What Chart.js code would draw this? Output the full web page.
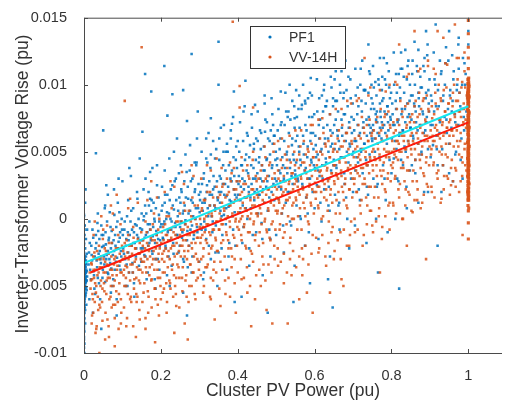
<!DOCTYPE html>
<html>
<head>
<meta charset="utf-8">
<script src="https://cdn.jsdelivr.net/npm/chart.js@4.4.0/dist/chart.umd.min.js"></script>
<style>
  body { margin: 0; background: #fff; }
  #wrap { width: 506px; height: 401px; }
</style>
</head>
<body>
<div id="wrap"><canvas id="riseChart"></canvas></div>
<script>
// power in per-mille of 1 pu, rise in 1e-4 pu, stored as pairs
const pf1Samples = [
  0,-62, 0,-55, 0,-48, 0,-71, 0,-40, 0,-33, 0,-25, 0,-58, 0,-66, 0,-80, 0,-88, 0,-44, 0,-37, 0,-19, 0,-12, 0,-5, 0,3, 0,-30, 0,-52, 0,-75,
  2,-60, 2,-45, 2,-35, 2,-28, 3,-50, 3,-68, 3,-22, 4,-40, 4,-57, 5,-31, 5,-47, 5,-15, 6,-64, 6,-38, 7,-26, 7,-53, 8,-43, 8,-8, 1,-84, 1,-93, 3,12, 4,22, 1,-70,
  0,-42, 0,-47, 0,-36, 0,-29, 0,-61, 0,-53, 1,-39, 1,-45, 1,-34, 1,-57, 2,-41, 2,-52, 2,-30, 3,-44, 3,-36, 4,-48, 4,-33, 5,-40, 5,-55, 6,-46, 0,-22, 0,-15, 1,-8, 0,2, 2,-66, 1,-74, 0,-82, 3,-78, 0,-96, 1,-50,
  12,-34, 15,-18, 18,-45, 20,-27, 22,-8, 25,-39, 27,-52, 30,-22, 31,-12, 33,-31, 35,-3, 36,-44, 38,-26, 40,-15, 42,-60, 44,-33, 45,-5, 47,-21, 49,-38, 50,-12, 52,-28, 54,8, 55,-47, 57,-19, 58,-30, 60,-2, 62,-24, 63,-41, 65,-14, 67,5, 68,-33, 70,-22, 72,-9, 74,-50, 75,-27, 77,-16, 79,3, 80,-38, 82,-20, 84,-6, 86,-29, 88,12, 90,-17, 92,-35, 94,-10, 96,-24, 98,0, 31,49, 50,66, 85,-72, 45,-82, 23,-70, 58,25, 90,30, 14,-60,
  102,-22, 105,-8, 107,-30, 110,-15, 112,2, 115,-25, 117,-40, 119,-12, 121,-2, 124,-20, 126,-33, 128,8, 130,-10, 132,-18, 135,-28, 137,-5, 139,15, 141,-14, 143,-35, 146,-7, 148,-22, 150,4, 152,-16, 155,-1, 157,-27, 159,10, 161,-12, 163,-45, 166,-4, 168,20, 170,-18, 172,-8, 175,6, 177,-24, 179,-13, 181,12, 184,-2, 186,-30, 188,-9, 190,25, 193,-15, 195,3, 197,-20, 199,-6, 118,38, 145,45, 172,35, 131,-58, 186,-52, 152,65, 159,108, 175,95, 113,-50,
  201,-4, 204,10, 206,-15, 209,-2, 211,18, 213,-22, 216,5, 218,-10, 220,-28, 223,14, 225,0, 227,-8, 230,25, 232,-18, 234,7, 237,-3, 239,30, 241,-12, 244,2, 246,-25, 248,16, 250,-6, 253,22, 255,-14, 257,4, 260,-32, 262,10, 264,-1, 267,35, 269,-9, 271,15, 274,-20, 276,6, 278,28, 281,-5, 283,12, 285,-15, 288,20, 290,0, 292,40, 295,-10, 297,8, 299,18, 217,77, 242,60, 268,73, 296,80, 223,-50, 258,-55, 280,-40, 230,93, 258,96, 209,114, 280,123, 268,-72,
  301,5, 303,20, 306,-8, 308,12, 311,30, 313,-2, 315,15, 318,-15, 320,25, 322,8, 325,-20, 327,18, 329,38, 332,2, 334,-10, 336,22, 339,10, 341,45, 343,-5, 346,28, 348,14, 350,-25, 353,32, 355,6, 357,20, 360,-12, 362,40, 364,3, 367,26, 369,-4, 371,17, 374,50, 376,9, 378,-18, 381,30, 383,13, 385,36, 388,-8, 390,22, 392,5, 395,44, 397,16, 399,28, 318,60, 330,75, 356,68, 385,71, 310,-45, 347,-50, 372,-38, 392,-62, 350,132, 350,100, 390,95,
  401,18, 403,32, 406,5, 408,24, 411,40, 413,10, 415,-6, 418,28, 420,16, 422,48, 425,0, 427,34, 429,20, 432,55, 434,8, 436,26, 439,-12, 441,38, 443,14, 446,30, 448,60, 450,22, 453,4, 455,42, 457,18, 460,52, 462,-3, 464,28, 467,36, 469,12, 471,65, 474,24, 476,45, 478,6, 481,32, 483,58, 485,-15, 488,20, 490,40, 492,70, 495,14, 497,30, 499,50, 420,103, 415,80, 445,85, 470,92, 490,78, 430,-35, 465,-42, 485,-28, 410,-58, 478,-70,
  501,28, 503,45, 506,15, 508,36, 511,60, 513,22, 515,4, 518,40, 520,30, 522,70, 525,12, 527,48, 529,34, 532,80, 534,20, 536,38, 539,-5, 541,55, 543,26, 546,44, 548,75, 550,33, 553,10, 555,62, 557,28, 560,50, 562,2, 564,40, 567,85, 569,24, 571,56, 574,36, 576,70, 578,16, 581,46, 583,90, 585,-10, 588,30, 590,64, 592,42, 595,20, 597,52, 599,78, 512,95, 535,100, 560,92, 590,105, 520,-25, 548,-35, 575,-20, 545,-62, 588,-48, 530,125,
  601,38, 603,55, 606,25, 608,48, 611,70, 613,32, 615,12, 618,52, 620,40, 622,80, 625,22, 627,60, 629,45, 632,88, 634,30, 636,50, 639,6, 641,66, 643,36, 646,56, 648,84, 650,44, 653,18, 655,74, 657,38, 660,62, 662,10, 664,52, 667,94, 669,34, 671,68, 674,46, 676,78, 678,26, 681,58, 683,96, 685,0, 688,42, 690,72, 692,54, 695,30, 697,64, 699,86, 610,-15, 640,-28, 665,-8, 690,-22, 647,-66, 625,100, 655,110, 680,118, 635,-45,
  701,50, 703,66, 706,36, 708,58, 711,78, 713,42, 715,22, 718,64, 720,52, 722,88, 725,34, 727,72, 729,56, 732,96, 734,44, 736,62, 739,18, 741,76, 743,48, 746,68, 748,90, 750,58, 753,30, 755,82, 757,50, 760,74, 762,24, 764,64, 767,100, 769,46, 771,80, 774,60, 776,88, 778,40, 781,70, 783,104, 785,14, 788,56, 790,84, 792,66, 795,44, 797,76, 799,94, 752,70, 762,80, 775,72, 788,78, 745,64, 770,68, 705,-5, 735,-18, 760,0, 790,-10, 720,112, 780,120, 740,130, 765,-40,
  801,60, 803,78, 806,45, 808,70, 811,88, 813,52, 815,30, 818,74, 820,62, 822,98, 825,44, 827,82, 829,66, 832,106, 834,54, 836,72, 839,24, 841,86, 843,58, 846,78, 848,100, 850,68, 853,40, 855,92, 857,60, 860,84, 862,34, 864,72, 867,110, 869,56, 871,90, 874,70, 876,98, 878,48, 881,80, 883,114, 885,20, 888,66, 890,94, 892,76, 895,52, 897,86, 899,104, 810,0, 840,8, 870,12, 895,20, 825,124, 860,132, 890,140, 820,-52,
  902,70, 905,88, 908,55, 911,80, 914,100, 917,62, 920,40, 923,84, 926,72, 929,108, 932,52, 935,92, 938,76, 941,116, 944,64, 947,82, 950,34, 953,96, 956,68, 959,88, 962,110, 965,78, 968,50, 971,100, 974,70, 977,94, 980,44, 983,82, 986,120, 989,66, 992,100, 995,80, 998,90, 1000,60, 1000,130, 1000,75, 930,20, 960,28, 985,30, 920,-20, 950,140, 975,135, 1000,140, 915,145
];

// second pass over the dense core of the PF1 cloud
const pf1Core = [
  13,-25, 16,-38, 19,-20, 21,-31, 24,-14, 26,-42, 28,-28, 32,-18, 34,-36, 37,-9, 39,-48, 41,-24, 43,-30, 46,-12, 48,-44, 14,-2, 29,-56, 36,4,
  51,-20, 53,-34, 56,-10, 59,-27, 61,-40, 64,-16, 66,-30, 69,-6, 71,-37, 73,-18, 76,-45, 78,-24, 81,-12, 83,-32, 87,-2, 89,-22, 93,-14, 95,-38, 97,-28, 99,-8,
  101,-12, 104,-26, 106,-2, 109,-20, 111,-34, 114,-10, 116,-16, 120,-28, 123,6, 125,-8, 127,-40, 129,-18, 133,-4, 136,-22, 138,-12, 142,0, 144,-26, 147,-16, 149,-32,
  151,-8, 153,-22, 156,2, 158,-14, 160,-28, 162,4, 165,-10, 167,-20, 169,10, 171,-4, 174,-16, 176,14, 178,-26, 180,-6, 183,0, 185,-18, 187,8, 189,-12, 192,-30, 194,16, 196,-2, 198,-16,
  202,6, 205,-14, 207,-4, 210,12, 212,-20, 214,0, 217,18, 219,-8, 221,4, 224,-16, 226,22, 228,-2, 231,10, 233,-26, 236,28, 238,-6, 240,14, 243,-12, 245,6, 247,34, 249,-20,
  251,12, 252,-2, 254,20, 256,-10, 259,6, 261,28, 263,-4, 265,16, 268,-16, 270,24, 272,4, 275,36, 277,-8, 279,14, 282,30, 284,2, 286,-12, 289,22, 291,8, 293,42, 294,-6, 298,26,
  302,14, 304,-4, 307,26, 309,6, 312,34, 314,12, 316,-8, 319,20, 321,42, 323,2, 326,28, 328,10, 330,48, 333,18, 335,-2, 337,32, 340,24, 342,8, 344,52, 347,16,
  351,20, 352,44, 354,12, 356,30, 358,2, 361,26, 363,50, 365,18, 368,36, 370,8, 372,56, 375,24, 377,40, 379,14, 382,60, 384,28, 386,2, 389,46, 391,32, 393,18, 396,54, 398,38,
  402,26, 404,50, 407,14, 409,40, 412,30, 414,58, 416,22, 419,44, 421,8, 423,36, 426,62, 428,24, 430,46, 433,16, 435,40, 437,68, 440,30, 442,52, 444,20, 447,44,
  451,34, 452,58, 454,18, 456,46, 459,30, 461,64, 463,40, 466,22, 468,54, 470,36, 472,74, 475,44, 477,28, 479,60, 482,16, 484,48, 486,66, 489,38, 491,56, 493,26, 496,62, 498,44,
  502,40, 504,66, 507,24, 509,52, 511,34, 514,72, 516,46, 519,28, 521,58, 523,38, 526,80, 528,50, 530,20, 533,64, 535,44, 537,74, 540,32, 542,60, 544,48, 547,84, 549,36,
  551,58, 552,42, 554,76, 556,30, 559,54, 561,68, 563,44, 566,82, 568,26, 570,62, 572,48, 575,88, 577,38, 579,66, 582,54, 584,30, 586,76, 589,58, 591,44, 593,92, 596,64, 598,40,
  602,62, 604,46, 607,80, 609,36, 612,60, 614,74, 616,50, 619,92, 621,30, 623,68, 626,56, 628,84, 630,42, 633,70, 635,60, 637,24, 640,78, 642,54, 644,98, 647,64, 649,40,
  651,70, 652,52, 654,88, 656,40, 659,66, 661,80, 663,58, 666,100, 668,46, 670,74, 672,62, 675,90, 677,34, 679,78, 682,64, 684,50, 686,84, 689,68, 691,56, 693,104, 696,76, 698,48,
  702,74, 704,58, 707,92, 709,46, 712,70, 714,84, 716,62, 719,100, 721,50, 723,80, 726,68, 728,96, 730,56, 733,86, 735,74, 737,40, 740,94, 742,70, 744,108, 747,82, 749,60,
  751,86, 752,66, 754,98, 756,60, 759,78, 761,92, 763,72, 766,104, 768,62, 770,86, 772,76, 775,96, 777,68, 779,90, 782,80, 784,64, 786,100, 789,84, 791,72, 793,110, 796,90, 798,74,
  802,86, 804,70, 807,100, 809,58, 812,82, 814,94, 816,72, 819,108, 821,64, 823,90, 826,78, 828,112, 830,66, 833,94, 835,82, 837,50, 840,104, 842,76, 844,118, 847,88, 849,68,
  851,92, 852,74, 854,108, 856,62, 859,86, 861,100, 863,80, 866,114, 868,66, 870,94, 872,84, 875,106, 877,58, 879,98, 882,78, 884,64, 886,110, 889,90, 891,72, 893,122, 896,96, 898,80,
  903,92, 907,70, 912,104, 916,84, 921,96, 925,64, 930,110, 934,88, 939,100, 943,74, 948,118,
  952,92, 957,80, 961,104, 966,72, 970,96, 975,112, 979,84, 984,100, 988,76, 993,108, 997,92,
  0,-35, 0,-41, 0,-50, 0,-57, 0,-64, 0,-27, 1,-31, 1,-43, 1,-53, 1,-62, 2,-38, 2,-48, 2,-56, 3,-33, 3,-41, 3,-58, 4,-36, 4,-45, 4,-52, 5,-28, 5,-43, 6,-34, 6,-51, 7,-39, 7,-46, 0,-69, 0,-77, 0,-90, 1,-100, 0,-107, 0,-18, 1,-12, 0,-8, 2,-5
];

// third pass: the wider fringe of the PF1 cloud
const pf1Spread = [
  55,10, 62,18, 70,-55, 78,22, 85,-60, 92,5, 100,28, 108,-50, 115,14, 122,32, 130,-48, 138,20,
  155,22, 160,30, 166,-40, 172,15, 178,38, 184,-45, 190,40, 196,-38, 203,24, 210,36, 216,-42, 222,45, 228,-35, 234,50,
  252,40, 258,-30, 264,48, 270,-36, 276,55, 282,-28, 288,42, 294,60, 300,-32, 306,50, 312,-40, 318,45, 324,64, 330,-30, 336,58, 342,-25,
  352,60, 358,-22, 364,70, 370,50, 376,-28, 382,66, 388,76, 394,-20, 400,58, 406,72, 412,-18, 418,84, 424,64, 430,-22, 436,78, 442,56, 448,-10,
  452,80, 458,66, 464,-15, 470,86, 476,72, 482,-8, 488,90, 494,62, 500,-12, 506,82, 512,70, 518,-5, 524,94, 530,76, 536,-2, 542,88, 548,68,
  552,96, 558,82, 564,0, 570,100, 576,86, 582,4, 588,94, 594,76, 600,8, 606,104, 612,90, 618,-2, 624,96, 630,84, 636,10, 642,106, 648,90,
  652,104, 658,88, 664,12, 670,110, 676,94, 682,16, 688,106, 694,90, 700,20, 706,112, 712,98, 718,14, 724,118, 730,96, 736,24, 742,110, 748,100,
  752,114, 758,102, 764,26, 770,120, 776,106, 782,30, 788,116, 794,98, 800,34, 806,124, 812,108, 818,28, 824,112, 830,40, 836,126, 842,114, 848,36,
  855,118, 862,44, 870,126, 878,50, 886,120, 894,130, 902,46, 910,124, 918,52, 926,118, 934,40, 942,128, 950,56, 958,122, 966,48, 974,130, 982,60, 990,116
];

const vv14hSamples = [
  15,-40, 17,-52, 19,-33, 21,-45, 23,-60, 25,-38, 27,-25, 29,-48, 31,-55, 33,-30, 35,-42, 37,-68, 39,-20, 41,-36, 43,-50, 45,-28, 47,-62, 49,-15, 51,-40, 53,-54, 55,-32, 57,-24, 59,-46, 61,-75, 63,-35, 65,-18, 67,-44, 69,-58, 71,-28, 73,-38, 75,-8, 77,-50, 79,-30, 81,-64, 83,-22, 85,-42, 87,-35, 89,-12, 91,-56, 93,-26, 95,-40, 97,-70, 99,-20, 30,-85, 55,-90, 80,-95, 45,2, 70,10, 20,-78, 90,-82, 40,-100, 65,-88, 25,-12, 60,-5, 85,18,
  101,-30, 103,-42, 106,-18, 108,-35, 110,-50, 113,-25, 115,-12, 117,-40, 119,-28, 122,-58, 124,-20, 126,-34, 128,-6, 131,-45, 133,-22, 135,-30, 137,-62, 140,-15, 142,-38, 144,-26, 146,-48, 149,-10, 151,-32, 153,-20, 155,-55, 158,-28, 160,-2, 162,-40, 164,-18, 167,-70, 169,-24, 171,-36, 173,-8, 176,-45, 178,-16, 180,-30, 182,4, 185,-52, 187,-22, 189,-12, 191,-38, 194,-26, 196,0, 198,-44, 110,-80, 135,-88, 160,-82, 185,-92, 120,15, 150,128, 175,28, 145,-75, 195,-72, 106,88,
  201,-18, 203,-30, 206,-6, 208,-24, 210,-40, 213,-12, 215,2, 217,-28, 219,-16, 222,-46, 224,-8, 226,-22, 228,8, 231,-34, 233,-10, 235,-20, 237,-50, 240,-2, 242,-26, 244,-14, 246,-36, 249,4, 251,-20, 253,-8, 255,-44, 258,-16, 260,12, 262,-28, 264,-4, 267,-58, 269,-12, 271,-24, 273,6, 276,-34, 278,-2, 280,-18, 282,16, 285,-40, 287,-10, 289,0, 291,-26, 294,-14, 296,10, 298,-32, 215,-70, 240,-65, 262,-78, 290,-60, 225,28, 255,35, 280,40, 235,-85, 270,-90, 205,-55,
  301,-6, 303,-18, 306,6, 308,-12, 310,-28, 313,0, 315,14, 317,-16, 319,-4, 322,-34, 324,4, 326,-10, 328,20, 331,-22, 333,2, 335,-8, 337,-38, 340,10, 342,-14, 344,-2, 346,-24, 349,16, 351,-8, 353,4, 355,-32, 358,-4, 360,24, 362,-16, 364,8, 367,-46, 369,0, 371,-12, 373,18, 376,-22, 378,10, 380,-6, 382,28, 385,-28, 387,2, 389,12, 391,-14, 394,-2, 396,22, 398,-20, 310,-55, 330,-60, 355,-65, 380,-58, 395,-70, 320,40, 345,45, 387,147, 390,38, 340,-75,
  401,5, 403,-8, 406,18, 408,0, 410,-16, 413,12, 415,26, 417,-4, 419,8, 422,-22, 424,16, 426,2, 428,32, 431,-10, 433,14, 435,4, 437,-26, 440,22, 442,-2, 444,10, 446,-12, 449,28, 451,4, 453,16, 455,-20, 458,8, 460,36, 462,-4, 464,20, 467,-34, 469,12, 471,0, 473,30, 476,-10, 478,22, 480,6, 482,40, 485,-16, 487,14, 489,24, 491,-2, 494,10, 496,34, 498,-8, 410,-45, 425,-55, 445,-60, 460,-50, 475,-68, 490,-78, 405,99, 405,83, 440,83, 435,-80,
  501,16, 503,4, 506,30, 508,12, 510,-4, 513,24, 515,38, 517,8, 519,20, 522,-10, 524,28, 526,14, 528,44, 531,2, 533,26, 535,16, 537,-14, 540,34, 542,10, 544,22, 546,0, 549,40, 551,16, 553,28, 555,-8, 558,20, 560,48, 562,8, 564,32, 567,-22, 569,24, 571,12, 573,42, 576,2, 578,34, 580,18, 582,52, 585,-4, 587,26, 589,36, 591,10, 594,22, 596,46, 598,4, 505,-35, 520,-48, 540,-42, 560,-60, 580,-55, 595,-70, 515,60, 550,66, 590,70, 530,-78, 570,-30,
  601,27, 603,15, 606,40, 608,24, 610,8, 613,35, 615,50, 617,20, 619,32, 622,2, 624,40, 626,26, 628,56, 631,14, 633,38, 635,28, 637,-2, 640,46, 642,22, 644,34, 646,12, 649,52, 651,28, 653,40, 655,4, 658,32, 660,60, 662,20, 664,44, 667,-10, 669,36, 671,24, 673,54, 676,14, 678,46, 680,30, 682,64, 685,8, 687,38, 689,48, 691,22, 694,34, 696,58, 698,16, 610,-25, 630,-35, 650,-30, 670,-45, 690,-20, 620,75, 655,82, 685,88, 640,-55, 675,-50,
  701,38, 703,26, 706,52, 708,36, 710,20, 713,46, 715,62, 717,32, 719,44, 722,14, 724,52, 726,38, 728,68, 731,26, 733,50, 735,40, 737,10, 740,58, 742,34, 744,46, 746,24, 749,64, 751,40, 753,52, 755,16, 758,44, 760,72, 762,32, 764,56, 767,2, 769,48, 771,36, 773,66, 776,26, 778,58, 780,42, 782,76, 785,20, 787,50, 789,60, 791,34, 794,46, 796,70, 798,28, 705,-10, 725,-20, 750,-5, 775,-15, 795,-8, 715,90, 745,98, 785,95, 730,120, 770,-40,
  801,50, 803,38, 806,64, 808,48, 810,32, 813,58, 815,74, 817,44, 819,56, 822,26, 824,64, 826,50, 828,80, 831,38, 833,62, 835,52, 837,22, 840,70, 842,46, 844,58, 846,36, 849,76, 851,52, 853,64, 855,28, 858,56, 860,84, 862,44, 864,68, 867,14, 869,60, 871,48, 873,78, 876,38, 878,70, 880,54, 882,88, 885,32, 887,62, 889,72, 891,46, 894,58, 896,82, 898,40, 805,10, 830,0, 855,5, 880,12, 815,100, 845,108, 875,112, 895,118, 820,130, 860,140, 840,-20, 890,-30,
  901,61, 903,48, 906,75, 908,58, 910,42, 913,68, 915,86, 917,54, 919,66, 922,36, 924,74, 926,60, 928,90, 931,48, 933,72, 935,62, 937,32, 940,80, 942,56, 944,68, 946,46, 949,86, 951,62, 953,74, 955,38, 958,66, 960,94, 962,54, 964,78, 967,24, 969,70, 971,58, 973,88, 976,48, 978,80, 980,64, 982,98, 985,42, 987,72, 989,82, 991,56, 994,68, 996,92, 998,50, 905,20, 930,15, 955,25, 980,28, 915,108, 945,115, 975,120, 990,110, 935,135, 965,145, 985,-12, 920,140
];

// second pass over the dense core of the VV-14H cloud
const vv14hCore = [
  18,-46, 20,-34, 22,-56, 24,-28, 26,-44, 28,-62, 30,-38, 32,-50, 34,-24, 36,-58, 38,-40, 40,-30, 42,-66, 44,-46, 46,-36, 48,-52, 21,-72, 33,-80,
  51,-30, 52,-48, 54,-22, 56,-40, 58,-56, 60,-34, 62,-44, 64,-26, 66,-60, 68,-38, 70,-50, 72,-18, 74,-42, 76,-64, 78,-34, 80,-46, 82,-28, 84,-54, 86,-38, 88,-22, 92,-48, 94,-32, 96,-60, 98,-40,
  102,-24, 104,-38, 105,-50, 107,-28, 109,-44, 111,-16, 112,-36, 114,-56, 116,-30, 118,-20, 120,-46, 121,-34, 123,-62, 125,-26, 127,-40, 129,-14, 130,-52, 132,-32, 134,-22, 136,-44, 138,-36, 139,-58, 141,-26, 143,-46, 145,-18, 147,-38, 148,-30,
  150,-24, 152,-40, 154,-16, 156,-32, 157,-48, 159,-22, 161,-36, 163,-10, 165,-30, 166,-54, 168,-20, 170,-42, 172,-28, 174,-14, 175,-46, 177,-34, 179,-4, 181,-24, 183,-38, 184,-16, 186,-60, 188,-30, 190,-18, 192,-44, 193,-8, 195,-32, 197,-22, 199,-50,
  202,-10, 204,-26, 205,-40, 207,-16, 209,-32, 211,-4, 212,-22, 214,-48, 216,-12, 218,-36, 220,-24, 221,2, 223,-30, 225,-52, 227,-14, 229,-38, 230,-20, 232,-6, 234,-42, 236,-28, 238,-12, 239,-56, 241,-18, 243,-34, 245,-2, 247,-24, 248,-44,
  250,-12, 252,-28, 254,-2, 256,-20, 257,-36, 259,-8, 261,-24, 263,6, 265,-16, 266,-42, 268,-30, 270,-6, 272,-20, 274,-50, 275,-12, 277,-34, 279,2, 281,-22, 283,-40, 284,-10, 286,-28, 288,10, 290,-18, 292,-46, 293,-4, 295,-30, 297,-14, 299,-38,
  302,0, 304,-14, 305,-30, 307,8, 309,-6, 311,-22, 312,14, 314,-10, 316,-36, 318,2, 320,-18, 321,20, 323,-4, 325,-26, 327,10, 329,-12, 330,-44, 332,4, 334,-20, 336,16, 338,-8, 339,-32, 341,6, 343,-16, 345,24, 347,-2, 348,-24,
  350,8, 352,-8, 354,18, 356,0, 357,-18, 359,12, 361,-4, 363,26, 365,6, 366,-28, 368,16, 370,-10, 372,30, 374,2, 375,-16, 377,20, 379,-2, 381,10, 383,-22, 384,34, 386,4, 388,-12, 390,22, 392,-30, 393,14, 395,0, 397,28, 399,-6,
  402,14, 404,-2, 405,28, 407,8, 409,-12, 411,20, 412,2, 414,36, 416,-6, 418,16, 420,-20, 421,26, 423,6, 425,40, 427,-10, 429,18, 430,30, 432,0, 434,-24, 436,22, 438,10, 439,44, 441,-4, 443,16, 445,-16, 447,32, 448,4,
  450,18, 452,2, 454,30, 456,10, 457,-10, 459,24, 461,4, 463,40, 465,14, 466,-18, 468,28, 470,-2, 472,46, 474,18, 475,-8, 477,32, 479,8, 481,22, 483,-14, 484,42, 486,12, 488,-4, 490,30, 492,18, 493,50, 495,-20, 497,24, 499,6,
  502,22, 504,6, 505,36, 507,14, 509,-8, 511,28, 512,44, 514,4, 516,18, 518,-14, 520,32, 521,10, 523,48, 525,22, 527,-4, 529,38, 530,14, 532,54, 534,28, 536,-18, 538,42, 539,20, 541,0, 543,34, 545,12, 547,50, 548,26,
  550,30, 552,14, 554,44, 556,24, 557,2, 559,38, 561,18, 563,54, 565,30, 566,-8, 568,42, 570,22, 572,58, 574,8, 575,36, 577,48, 579,16, 581,30, 583,-2, 584,50, 586,24, 588,40, 590,12, 592,56, 593,32, 595,-12, 597,46, 599,20,
  602,36, 604,20, 605,50, 607,30, 609,10, 611,44, 612,24, 614,60, 616,36, 618,0, 620,48, 621,28, 623,64, 625,16, 627,40, 629,54, 630,22, 632,36, 634,6, 636,58, 638,30, 639,46, 641,18, 643,62, 645,34, 647,-6, 648,50,
  650,40, 652,26, 654,56, 656,34, 657,14, 659,50, 661,30, 663,66, 665,42, 666,4, 668,54, 670,32, 672,70, 674,20, 675,46, 677,58, 679,26, 681,42, 683,10, 684,64, 686,36, 688,52, 690,22, 692,68, 693,40, 695,-2, 697,56, 699,30,
  702,46, 704,30, 705,60, 707,40, 709,20, 711,54, 712,34, 714,70, 716,48, 718,10, 720,60, 721,38, 723,76, 725,26, 727,52, 729,64, 730,30, 732,46, 734,16, 736,70, 738,40, 739,58, 741,24, 743,74, 745,44, 747,6, 748,62,
  750,50, 752,36, 754,66, 756,46, 757,24, 759,60, 761,40, 763,76, 765,52, 766,16, 768,64, 770,44, 772,82, 774,32, 775,58, 777,70, 779,36, 781,52, 783,22, 784,78, 786,46, 788,62, 790,30, 792,80, 793,50, 795,12, 797,68, 799,40,
  802,58, 804,42, 805,72, 807,52, 809,30, 811,66, 812,46, 814,82, 816,58, 818,22, 820,70, 821,50, 823,88, 825,38, 827,62, 829,76, 830,42, 832,58, 834,28, 836,84, 838,52, 839,68, 841,36, 843,86, 845,56, 847,18, 848,72,
  850,62, 852,48, 854,78, 856,58, 857,36, 859,72, 861,52, 863,88, 865,64, 866,28, 868,76, 870,56, 872,94, 874,44, 875,68, 877,82, 879,48, 881,64, 883,34, 884,90, 886,58, 888,74, 890,42, 892,92, 893,62, 895,24, 897,80, 899,54,
  902,66, 904,52, 905,84, 907,62, 909,40, 911,78, 912,58, 914,94, 916,70, 918,34, 920,82, 921,62, 923,100, 925,50, 927,74, 929,88, 930,54, 932,70, 934,40, 936,96, 938,64, 939,80, 941,48, 943,98, 945,68, 947,30, 948,86,
  950,72, 952,56, 954,90, 956,66, 957,44, 959,84, 961,62, 963,100, 965,76, 966,38, 968,88, 970,66, 972,104, 974,54, 975,80, 977,94, 979,58, 981,76, 983,46, 984,102, 986,70, 988,86, 990,52, 992,98, 993,74, 995,36, 997,90, 999,64
];

// third pass: the wider fringe of the VV-14H cloud
const vv14hSpread = [
  24,-70, 32,-82, 40,-64, 48,-76, 56,-70, 64,-80, 72,-66, 80,-74, 88,-62, 96,-78, 28,-2, 50,-8, 75,4, 95,-4,
  104,-66, 112,-74, 120,-60, 128,-80, 136,-56, 144,-68, 152,-62, 160,-74, 168,-58, 176,-66, 184,-52, 192,-64, 200,-60, 115,8, 140,12, 165,14, 190,16,
  208,-52, 216,-62, 224,-48, 232,-58, 240,-44, 248,-66, 256,-54, 264,-46, 272,-62, 280,-50, 288,-56, 296,-44, 210,20, 235,24, 260,26, 285,32,
  304,-42, 312,-50, 320,-36, 328,-58, 336,-46, 344,-40, 352,-52, 360,-38, 368,-56, 376,-44, 384,-36, 392,-48, 400,-40, 305,30, 330,36, 358,38, 380,42,
  408,-30, 416,-44, 424,-36, 432,-50, 440,-32, 448,-42, 456,-38, 464,-28, 472,-46, 480,-34, 488,-40, 496,-30, 410,46, 440,50, 470,54, 495,56,
  504,-22, 512,-32, 520,-26, 528,-40, 536,-30, 544,-24, 552,-36, 560,-28, 568,-42, 576,-20, 584,-34, 592,-26, 505,58, 535,62, 565,66, 595,70,
  604,-14, 612,-22, 620,-12, 628,-28, 636,-18, 644,-10, 652,-24, 660,-16, 668,-30, 676,-8, 684,-20, 692,-12, 610,74, 640,78, 670,82, 695,86,
  704,0, 712,-8, 720,4, 728,-12, 736,-4, 744,6, 752,-10, 760,-2, 768,8, 776,-6, 784,2, 792,10, 710,88, 740,92, 770,96, 795,100,
  804,12, 812,4, 820,16, 828,0, 836,10, 844,20, 852,6, 860,14, 868,22, 876,8, 884,18, 892,26, 810,102, 840,106, 870,110, 895,114,
  904,24, 912,16, 920,30, 928,12, 936,22, 944,32, 952,18, 960,28, 968,36, 976,20, 984,32, 992,40, 910,112, 940,116, 970,120, 990,124
];

// the full-power column of VV-14H samples at 1 pu
const vv14hFullPower = [
  1000,15, 1000,21, 1000,26, 1000,31, 1000,37, 1000,40, 1000,46, 1000,51, 1000,54, 1000,61, 1000,64, 1000,70, 1000,76, 1000,79, 1000,86, 1000,89, 1000,95, 1000,99, 1000,104,
  999,18, 999,28, 999,35, 999,43, 999,48, 999,56, 999,68, 999,73, 999,81, 999,88, 999,93, 999,101,
  1001,17, 1001,23, 1001,33, 1001,39, 1001,44, 1001,52, 1001,59, 1001,66, 1001,72, 1001,77, 1001,84, 1001,92, 1001,97, 1001,102,
  1000,112, 1000,120, 1000,128, 1000,138, 1000,148, 1000,-3, 1000,-15, 1000,6, 999,10, 1001,8, 999,63, 1000,58, 1000,73, 999,84, 1001,47, 1000,34, 1000,92,
  1000,16, 1000,19, 1000,23, 1000,28, 1000,33, 1000,36, 1000,42, 1000,44, 1000,49, 1000,53, 1000,57, 1000,63, 1000,67, 1000,72, 1000,75, 1000,81, 1000,84, 1000,88, 1000,93, 1000,97, 1000,101,
  999,14, 999,22, 999,25, 999,31, 999,38, 999,41, 999,46, 999,52, 999,59, 999,66, 999,71, 999,77, 999,86, 999,91, 999,96, 999,104,
  1001,14, 1001,20, 1001,27, 1001,30, 1001,36, 1001,42, 1001,49, 1001,55, 1001,62, 1001,69, 1001,74, 1001,80, 1001,87, 1001,90, 1001,95, 1001,100, 1001,105,
  998,20, 998,32, 998,45, 998,57, 998,70, 998,82, 998,94, 1002,26, 1002,40, 1002,54, 1002,68, 1002,79, 1002,91, 1002,99
];

// least-squares fit lines (end points)
const pf1FitPower = [0, 1];
const pf1FitRise = [-0.0033, 0.0084];
const vv14hFitPower = [0.017, 1];
const vv14hFitRise = [-0.0040, 0.0072];

const xTickValues = [0, 0.2, 0.4, 0.6, 0.8, 1];
const yTickValues = [-0.01, -0.005, 0, 0.005, 0.01, 0.015];

const seriesNames = ['PF1', 'VV-14H'];
const seriesColors = ['#0072BD', '#D95319'];

function toPoints(flat) {
    const pts = [];
    for (let i = 0; i < flat.length; i += 2) {
        pts.push({ x: flat[i] / 1000, y: flat[i + 1] / 10000 });
    }
    return pts;
}

function toLine(xs, ys) {
    return xs.map((x, i) => ({ x: x, y: ys[i] }));
}

const textColor = '#333333';
const axisColor = '#4a4a4a';

// frame, inward ticks, axis titles and legend, drawn like the matlab figure
const matlabAxes = {
    id: 'matlabAxes',
    afterDraw(chart) {
        const ctx = chart.ctx;
        const a = chart.chartArea;
        const xs = chart.scales.x;
        const ys = chart.scales.y;
        ctx.save();
        ctx.strokeStyle = axisColor;
        ctx.lineWidth = 1;
        ctx.beginPath();
        ctx.moveTo(a.left + 0.5, a.top + 0.5);
        ctx.lineTo(a.left + 0.5, a.bottom + 0.5);
        ctx.lineTo(a.right, a.bottom + 0.5);
        ctx.moveTo(a.left + 0.5, a.top + 0.5);
        ctx.lineTo(a.right, a.top + 0.5);
        xTickValues.forEach(v => {
            const px = Math.round(xs.getPixelForValue(v)) + 0.5;
            ctx.moveTo(px, a.bottom);
            ctx.lineTo(px, a.bottom - 4);
            ctx.moveTo(px, a.top);
            ctx.lineTo(px, a.top + 4);
        });
        yTickValues.forEach(v => {
            const py = Math.round(ys.getPixelForValue(v)) + 0.5;
            ctx.moveTo(a.left, py);
            ctx.lineTo(a.left + 4, py);
        });
        ctx.stroke();

        // axis titles
        ctx.fillStyle = textColor;
        ctx.font = '17.5px "Liberation Sans", Arial, sans-serif';
        ctx.textAlign = 'center';
        ctx.textBaseline = 'alphabetic';
        ctx.fillText('Cluster PV Power (pu)', (a.left + a.right) / 2, 396);
        ctx.save();
        ctx.translate(28, 184);
        ctx.rotate(-Math.PI / 2);
        ctx.fillText('Inverter-Transformer Voltage Rise (pu)', 0, 0);
        ctx.restore();

        // legend box
        ctx.fillStyle = '#ffffff';
        ctx.fillRect(250, 26, 95, 42);
        ctx.strokeStyle = '#333333';
        ctx.strokeRect(250.5, 26.5, 95, 42);
        ctx.font = '14px "Liberation Sans", Arial, sans-serif';
        ctx.textAlign = 'left';
        ctx.textBaseline = 'middle';
        seriesNames.forEach((name, i) => {
            const cy = 37 + i * 20;
            ctx.fillStyle = seriesColors[i];
            ctx.beginPath();
            ctx.arc(270, cy, 1.6, 0, Math.PI * 2);
            ctx.fill();
            ctx.fillStyle = textColor;
            ctx.fillText(name, 289, cy + 1);
        });
        ctx.restore();
    }
};

const ctx = document.getElementById('riseChart').getContext('2d');
const riseChart = new Chart(ctx, {
    type: 'scatter',
    data: {
        datasets: [{
            label: 'PF1 fit',
            type: 'line',
            data: toLine(pf1FitPower, pf1FitRise),
            borderColor: '#14e6ee',
            borderWidth: 2,
            pointRadius: 0,
            order: 0
        }, {
            label: 'VV-14H fit',
            type: 'line',
            data: toLine(vv14hFitPower, vv14hFitRise),
            borderColor: '#ff1a0a',
            borderWidth: 2,
            pointRadius: 0,
            order: 0
        }, {
            label: seriesNames[1] + ' at 1 pu',
            data: toPoints(vv14hFullPower),
            backgroundColor: 'rgba(217, 83, 25, 0.9)',
            pointStyle: 'rect',
            pointRadius: 2.2,
            pointBorderWidth: 0,
            order: 1
        }, {
            label: seriesNames[1],
            data: toPoints(vv14hSamples.concat(vv14hCore, vv14hSpread)),
            backgroundColor: 'rgba(217, 83, 25, 0.85)',
            pointStyle: 'rect',
            pointRadius: 1.8,
            pointBorderWidth: 0,
            order: 2
        }, {
            label: seriesNames[0],
            data: toPoints(pf1Samples.concat(pf1Core, pf1Spread)),
            backgroundColor: 'rgba(0, 114, 189, 0.85)',
            pointStyle: 'rect',
            pointRadius: 1.8,
            pointBorderWidth: 0,
            order: 3
        }]
    },
    options: {
        responsive: true,
        maintainAspectRatio: false,
        animation: false,
        events: [],
        layout: { padding: { top: 16, left: 0, right: 0, bottom: 0 } },
        plugins: {
            legend: { display: false },
            tooltip: { enabled: false }
        },
        scales: {
            x: {
                type: 'linear',
                min: 0,
                max: 1.0876,
                grid: { display: false },
                border: { display: false },
                afterFit: s => { s.height = 48; },
                afterBuildTicks: s => { s.ticks = xTickValues.map(v => ({ value: v })); },
                ticks: {
                    includeBounds: false,
                    padding: 6,
                    maxRotation: 0,
                    color: textColor,
                    font: { family: '"Liberation Sans", Arial, sans-serif', size: 14.5 },
                    callback: v => String(+v.toFixed(3))
                }
            },
            y: {
                type: 'linear',
                min: -0.01,
                max: 0.015,
                grid: { display: false },
                border: { display: false },
                afterFit: s => { s.width = 84; },
                afterBuildTicks: s => { s.ticks = yTickValues.map(v => ({ value: v })); },
                ticks: {
                    padding: 9,
                    color: textColor,
                    font: { family: '"Liberation Sans", Arial, sans-serif', size: 14.5 },
                    callback: v => String(+v.toFixed(3))
                }
            }
        }
    },
    plugins: [matlabAxes]
});
</script>
</body>
</html>
